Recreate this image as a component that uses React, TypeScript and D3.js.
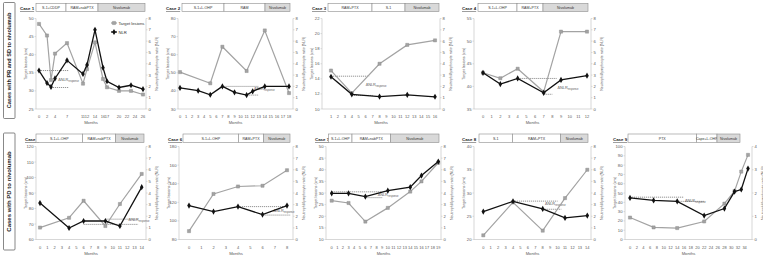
import React from "react";
import * as d3 from "d3";

// ---------- DATA ----------
const case1Months = [0, 2, 3, 4, 7, 11, 12, 14, 16, 17, 20, 23, 26];
const case1Target = [48.5, 45.3, 33, 40.3, 43.2, 32, 36, 43.4, 33.3, 31, 30, 30, 29];
const case1NLR = [3.4, 2.3, 1.95, 2.7, 4.3, 3.1, 3.9, 7.0, 3.65, 2.45, 1.9, 2.1, 1.75];
const case1Ticks = [0, 2, 4, 7, 11, 12, 14, 16, 17, 20, 22, 24, 26];
const case1Regimens = ["S-1+CDDP", "RAM+nabPTX", "Nivolumab"];

const case2TargetMonths = [0, 5, 7, 11, 14, 18];
const case2Target = [50.4, 44.2, 64.4, 51, 73.4, 38.8];
const case2NLRMonths = [0, 3, 5, 7, 9, 11, 12, 14, 18];
const case2NLR = [1.86, 1.62, 1.26, 2.0, 1.47, 1.23, 1.56, 2.0, 2.0];
const case2Regimens = ["S-1+L-OHP", "RAM", "Nivolumab"];

const case3Months = [1, 4, 8, 12, 16];
const case3Target = [15.1, 12.1, 16.0, 18.5, 19.1];
const case3NLR = [2.85, 1.3, 1.1, 1.25, 1.08];
const case3Regimens = ["RAM+PTX", "S-1", "Nivolumab"];

const case4Months = [0, 2, 4, 7, 9, 12];
const case4Target = [43, 41.8, 43.9, 38.8, 52.1, 52.1];
const case4NLR = [3.2, 2.2, 2.7, 1.43, 2.57, 2.95];
const case4Regimens = ["S-1+L-OHP", "RAM+PTX", "Nivolumab"];

const case5Months = [0, 4, 6, 9, 11, 14];
const case5Target = [67.7, 74, 85, 68.7, 82.9, 102.3];
const case5NLR = [3.13, 0.99, 1.59, 1.59, 1.16, 4.5];
const case5Regimens = ["S-1+L-OHP", "RAM+nabPTX", "Nivolumab"];

const case6Months = [0, 2, 4, 6, 8];
const case6Target = [89, 129, 137, 137.8, 154.5];
const case6NLR = [2.92, 2.4, 2.83, 2.14, 2.92];
const case6Regimens = ["S-1+L-OHP", "RAM+PTX", "Nivolumab"];

const case7TargetMonths = [0, 3, 6, 10, 14, 16, 19];
const case7Target = [26.7, 25.7, 17.7, 23.6, 30.6, 35, 43];
const case7NLRMonths = [0, 3, 6, 10, 14, 16, 19];
const case7NLR = [3.97, 3.97, 3.69, 4.2, 4.5, 5.5, 6.7];
const case7Regimens = ["S-1+L-OHP", "RAM+nabPTX", "Nivolumab"];

const case8Months = [0, 4, 8, 11, 14];
const case8Target = [20.9, 28, 21.9, 28.9, 35];
const case8NLR = [2.4, 3.28, 2.63, 1.86, 2.06];
const case8Regimens = ["S-1", "RAM+PTX", "Nivolumab"];

const case9Months = [0, 7, 14, 22, 28, 31, 33, 35];
const case9Target = [23.6, 13, 12.3, 19.4, 38.6, 52, 73, 91];
const case9NLR = [1.79, 1.68, 1.64, 1.03, 1.33, 2.06, 2.15, 3.05];
const case9Regimens = ["PTX", "Cape+L-OHP", "Nivolumab"];

const groupLabels = ["Cases with PR and SD to nivolumab", "Cases with PD to nivolumab"];

// ---------- LAYOUT ----------
const FONT = "Liberation Sans, Arial, sans-serif";
const GREY = "#a3a3a3";
const AXIS = "#bcbcbc";
const TXT = "#595959";

type Panel = {
  label: string; lx: number; ly: number;
  axisL: number; axisR: number; xr: [number, number]; dom: [number, number];
  yr: [number, number];
  left: [number, number]; leftStep: number;
  right: [number, number];
  xTicks: number[];
  tM: number[]; tV: number[]; nM: number[]; nV: number[];
  regimens: string[]; boxes: number[]; boxY: [number, number];
  dashes: [number, number, number][]; dl: [number, number];
  legend?: boolean;
};

const TOPY: [number, number] = [109, 18.5];
const BOTY: [number, number] = [239.5, 146.5];
const TOPBOX: [number, number] = [3.5, 11.5];
const BOTBOX: [number, number] = [134, 142.5];

const panels: Panel[] = [
  { label: "Case 1", lx: 20, ly: 10, axisL: 36, axisR: 146, xr: [39, 143], dom: [0, 26], yr: TOPY,
    left: [25, 50], leftStep: 5, right: [0, 8], xTicks: case1Ticks,
    tM: case1Months, tV: case1Target, nM: case1Months, nV: case1NLR,
    regimens: case1Regimens, boxes: [36, 66, 98, 145], boxY: TOPBOX,
    dashes: [[0, 7.5, 3.4], [3, 7.5, 1.9]], dl: [4.8, 2.45], legend: true },
  { label: "Case 2", lx: 166, ly: 10, axisL: 178, axisR: 293, xr: [180, 289], dom: [0, 18], yr: TOPY,
    left: [30, 80], leftStep: 10, right: [0, 8], xTicks: d3.range(0, 19),
    tM: case2TargetMonths, tV: case2Target, nM: case2NLRMonths, nV: case2NLR,
    regimens: case2Regimens, boxes: [182, 224, 265, 290], boxY: TOPBOX,
    dashes: [[7, 13, 2.0], [11, 13, 1.23]], dl: [12.2, 1.7] },
  { label: "Case 3", lx: 312, ly: 10, axisL: 322, axisR: 440, xr: [331, 435], dom: [1, 16], yr: TOPY,
    left: [10, 22], leftStep: 2, right: [0, 8], xTicks: d3.range(1, 17),
    tM: case3Months, tV: case3Target, nM: case3Months, nV: case3NLR,
    regimens: case3Regimens, boxes: [328, 372, 405, 439], boxY: TOPBOX,
    dashes: [[1, 6.5, 2.9], [4, 7, 1.2]], dl: [6, 2.0] },
  { label: "Case 4", lx: 462, ly: 10, axisL: 474, axisR: 591, xr: [483, 587], dom: [0, 12], yr: TOPY,
    left: [35, 55], leftStep: 5, right: [0, 8], xTicks: d3.range(0, 13),
    tM: case4Months, tV: case4Target, nM: case4Months, nV: case4NLR,
    regimens: case4Regimens, boxes: [478, 517, 543, 588], boxY: TOPBOX,
    dashes: [[4, 8.5, 2.7], [7, 8, 1.3]], dl: [8.6, 1.75] },
  { label: "Case 5", lx: 25, ly: 141, axisL: 36, axisR: 146, xr: [40, 141.7], dom: [0, 14], yr: BOTY,
    left: [60, 120], leftStep: 10, right: [0, 8], xTicks: d3.range(0, 15),
    tM: case5Months, tV: case5Target, nM: case5Months, nV: case5NLR,
    regimens: case5Regimens, boxes: [36, 82.5, 115.5, 144], boxY: BOTBOX,
    dashes: [[9, 13.5, 1.75], [6, 13.5, 1.3]], dl: [12.2, 1.55] },
  { label: "Case 6", lx: 168, ly: 141, axisL: 179, axisR: 293, xr: [189, 287], dom: [0, 8], yr: BOTY,
    left: [80, 180], leftStep: 20, right: [0, 8], xTicks: d3.range(0, 9),
    tM: case6Months, tV: case6Target, nM: case6Months, nV: case6NLR,
    regimens: case6Regimens, boxes: [183, 238.5, 263.5, 290], boxY: BOTBOX,
    dashes: [[4, 8, 2.83], [6, 8.3, 2.1]], dl: [6.9, 2.35] },
  { label: "Case 7", lx: 315, ly: 141, axisL: 326, axisR: 441, xr: [331.7, 438.3], dom: [0, 19], yr: BOTY,
    left: [10, 50], leftStep: 5, right: [0, 8], xTicks: d3.range(0, 20),
    tM: case7TargetMonths, tV: case7Target, nM: case7NLRMonths, nV: case7NLR,
    regimens: case7Regimens, boxes: [328.5, 352, 390.5, 439], boxY: BOTBOX,
    dashes: [[0, 9, 4.1], [6, 9, 3.6]], dl: [8.2, 3.7] },
  { label: "Case 8", lx: 462, ly: 141, axisL: 474, axisR: 591, xr: [483.3, 587.3], dom: [0, 14], yr: BOTY,
    left: [20, 40], leftStep: 5, right: [0, 8], xTicks: d3.range(0, 15),
    tM: case8Months, tV: case8Target, nM: case8Months, nV: case8NLR,
    regimens: case8Regimens, boxes: [479, 512.5, 560.5, 588], boxY: BOTBOX,
    dashes: [[4, 10, 3.3], [8, 10.5, 2.6]], dl: [8.3, 2.95] },
  { label: "Case 9", lx: 613, ly: 141, axisL: 625, axisR: 752, xr: [630, 748], dom: [0, 35], yr: BOTY,
    left: [0, 100], leftStep: 10, right: [0, 4], xTicks: d3.range(0, 35, 2),
    tM: case9Months, tV: case9Target, nM: case9Months, nV: case9NLR,
    regimens: case9Regimens, boxes: [628, 696.5, 717, 740], boxY: BOTBOX,
    dashes: [[0, 16, 1.82], [14, 22, 1.64]], dl: [16.3, 1.62] },
];

const diamond = d3.symbol().type(d3.symbolDiamond).size(11)() as string;
const square = d3.symbol().type(d3.symbolSquare).size(10)() as string;

function PanelView({ p }: { p: Panel }) {
  const x = d3.scaleLinear().domain(p.dom).range(p.xr);
  const yl = d3.scaleLinear().domain(p.left).range(p.yr);
  const yr = d3.scaleLinear().domain(p.right).range(p.yr);
  const leftTicks = d3.range(p.left[0], p.left[1] + 0.001, p.leftStep);
  const rightTicks = d3.range(p.right[0], p.right[1] + 0.001, 1);
  const tLine = d3.line<number>().x((_, i) => x(p.tM[i])).y((d) => yl(d));
  const nLine = d3.line<number>().x((_, i) => x(p.nM[i])).y((d) => yr(d));
  const [yb, yt] = p.yr;
  const midY = (yb + yt) / 2;
  const midX = (p.axisL + p.axisR) / 2;
  return (
    <g>
      <text x={p.lx} y={p.ly} fontSize={4.4} fontWeight="bold" fill="#222" textDecoration="underline" fontFamily={FONT}>{p.label}</text>
      {p.regimens.map((r, i) => {
        const x0 = p.boxes[i], x1 = p.boxes[i + 1];
        const nivo = i === p.regimens.length - 1;
        return (
          <g key={r + i}>
            <rect x={x0} y={p.boxY[0]} width={x1 - x0} height={p.boxY[1] - p.boxY[0]} fill={nivo ? "#d9d9d9" : "#fff"} stroke="#8c8c8c" strokeWidth={0.6} />
            <text x={(x0 + x1) / 2} y={(p.boxY[0] + p.boxY[1]) / 2 + 1.3} fontSize={3.6} textAnchor="middle" fill="#333" fontFamily={FONT}>{r}</text>
          </g>
        );
      })}
      {/* axes */}
      <line x1={p.axisL} x2={p.axisL} y1={yt} y2={yb} stroke={AXIS} strokeWidth={0.6} />
      <line x1={p.axisR} x2={p.axisR} y1={yt} y2={yb} stroke={AXIS} strokeWidth={0.6} />
      <line x1={p.axisL} x2={p.axisR} y1={yb} y2={yb} stroke={AXIS} strokeWidth={0.6} />
      {leftTicks.map((t) => (
        <g key={"l" + t}>
          <line x1={p.axisL - 1.5} x2={p.axisL} y1={yl(t)} y2={yl(t)} stroke={AXIS} strokeWidth={0.5} />
          <text x={p.axisL - 2.5} y={yl(t) + 1.5} fontSize={4.2} textAnchor="end" fill={TXT} fontFamily={FONT}>{t}</text>
        </g>
      ))}
      {rightTicks.map((t) => (
        <g key={"r" + t}>
          <line x1={p.axisR} x2={p.axisR + 1.5} y1={yr(t)} y2={yr(t)} stroke={AXIS} strokeWidth={0.5} />
          <text x={p.axisR + 2.5} y={yr(t) + 1.5} fontSize={4.2} textAnchor="start" fill={TXT} fontFamily={FONT}>{t}</text>
        </g>
      ))}
      {p.xTicks.map((t) => (
        <text key={"x" + t} x={x(t)} y={yb + 9} fontSize={4} textAnchor="middle" fill={TXT} fontFamily={FONT}>{t}</text>
      ))}
      <text x={midX} y={yb + 15} fontSize={4.2} textAnchor="middle" fill={TXT} fontFamily={FONT}>Months</text>
      <text transform={`translate(${p.axisL - 9.5},${midY}) rotate(-90)`} fontSize={3.8} textAnchor="middle" fill={TXT} fontFamily={FONT}>Target lesions (cm)</text>
      <text transform={`translate(${p.axisR + 11.5},${midY}) rotate(-90)`} fontSize={3.6} textAnchor="middle" fill={TXT} fontFamily={FONT}>Neutrophil/lymphocyte ratio (NLR)</text>
      {/* dashed reference lines */}
      {p.dashes.map((d, i) => (
        <line key={"d" + i} x1={x(d[0])} x2={x(d[1])} y1={yr(d[2])} y2={yr(d[2])} stroke="#7a7a7a" strokeWidth={0.8} strokeDasharray="1.2,0.8" />
      ))}
      <text x={x(p.dl[0])} y={yr(p.dl[1])} fontSize={3.8} fill={TXT} fontFamily={FONT}>
        ΔNLR<tspan fontSize={2.6} dy={1}>response</tspan>
      </text>
      {/* series */}
      <path d={tLine(p.tV) || ""} fill="none" stroke={GREY} strokeWidth={1.2} />
      {p.tV.map((v, i) => (
        <path key={"t" + i} d={square} transform={`translate(${x(p.tM[i])},${yl(v)})`} fill={GREY} stroke="#858585" strokeWidth={0.4} />
      ))}
      <path d={nLine(p.nV) || ""} fill="none" stroke="#111" strokeWidth={1.3} />
      {p.nV.map((v, i) => (
        <path key={"n" + i} d={diamond} transform={`translate(${x(p.nM[i])},${yr(v)})`} fill="#111" />
      ))}
      {p.legend && (
        <g>
          <line x1={111} x2={117} y1={23} y2={23} stroke={GREY} strokeWidth={1.2} />
          <path d={square} transform="translate(114,23)" fill={GREY} stroke="#858585" strokeWidth={0.4} />
          <text x={118.5} y={24.5} fontSize={4.2} fill="#333" fontFamily={FONT}>Target lesions</text>
          <line x1={111} x2={117} y1={32} y2={32} stroke="#111" strokeWidth={1.3} />
          <path d={diamond} transform="translate(114,32)" fill="#111" />
          <text x={118.5} y={33.5} fontSize={4.2} fill="#333" fontFamily={FONT}>NLR</text>
        </g>
      )}
    </g>
  );
}

export default function App() {
  return (
    <svg width={763} height={259} style={{ position: "absolute", left: 0, top: 0, background: "#fff" }}>
      <rect width={763} height={259} fill="#fff" />
      <rect x={3.5} y={2.5} width={11.5} height={116} fill="#fff" stroke="#555" strokeWidth={0.7} rx={1} />
      <text transform="translate(11.3,60.5) rotate(-90)" fontSize={5.6} fontWeight="bold" textAnchor="middle" fill="#222" fontFamily={FONT}>{groupLabels[0]}</text>
      <rect x={3.5} y={133} width={11.5} height={117} fill="#fff" stroke="#555" strokeWidth={0.7} rx={1} />
      <text transform="translate(11.3,191.5) rotate(-90)" fontSize={6} fontWeight="bold" textAnchor="middle" fill="#222" fontFamily={FONT}>{groupLabels[1]}</text>
      {panels.map((p) => <PanelView key={p.label} p={p} />)}
    </svg>
  );
}
